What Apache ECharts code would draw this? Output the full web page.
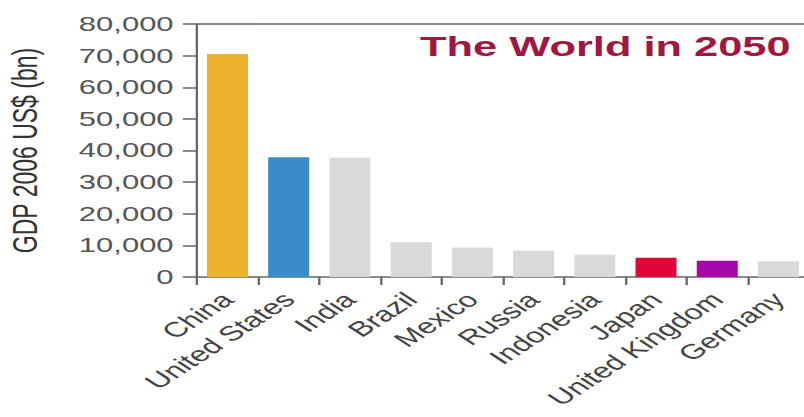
<!DOCTYPE html>
<html>
<head>
<meta charset="utf-8">
<style>
html,body{margin:0;padding:0;width:804px;height:417px;overflow:hidden;background:#fff;}
#c{width:530px;height:417px;transform:scaleX(1.55);transform-origin:0 0;}
</style>
<script src="https://cdn.jsdelivr.net/npm/echarts/dist/echarts.min.js"></script>
</head>
<body>
<div id="c"></div>
<script>
const categories = ['China', 'United States', 'India', 'Brazil', 'Mexico', 'Russia', 'Indonesia', 'Japan', 'United Kingdom', 'Germany'];
const gdp2050 = [70500, 37900, 37700, 11000, 9300, 8300, 7000, 6100, 5100, 5000];
const barColors = ['#ecb22b', '#3a8cc8', '#d9d9d9', '#d9d9d9', '#d9d9d9', '#d9d9d9', '#d9d9d9', '#e0063a', '#a507a8', '#d9d9d9'];
const titleText = 'The World in 2050';
const yAxisName = 'GDP 2006 US$ (bn)';

const chart = echarts.init(document.getElementById('c'), null, {renderer: 'svg'});
const fmt = v => String(v).replace(/\B(?=(\d{3})+(?!\d))/g, ',');
chart.setOption({
  animation: false,
  title: {
    text: titleText, left: 271, top: 32, padding: 0,
    textStyle: {fontFamily: 'Liberation Sans, Arial, sans-serif', fontSize: 28, fontWeight: 'bold', color: '#a0173f'}
  },
  grid: {left: 127, right: 8, top: 24, bottom: 140, containLabel: false, outerBoundsMode: 'none'},
  xAxis: [{
    type: 'category', data: categories,
    axisLine: {show: true, lineStyle: {color: '#666', width: 1.5}},
    axisTick: {show: true, length: 8, lineStyle: {color: '#666', width: 1.5}},
    axisLabel: {rotate: 45, margin: 19, interval: 0, fontSize: 21, color: '#444', fontFamily: 'Liberation Sans, Arial, sans-serif'}
  }, {
    type: 'category', data: categories, position: 'top',
    axisLine: {show: true, lineStyle: {color: '#666', width: 1.5}},
    axisTick: {show: false}, axisLabel: {show: false}
  }],
  yAxis: {
    type: 'value', min: 0, max: 80000, interval: 10000,
    name: yAxisName, nameLocation: 'middle', nameGap: 100, nameRotate: 90,
    nameTextStyle: {fontSize: 23, color: '#333', fontFamily: 'Liberation Sans, Arial, sans-serif'},
    axisLine: {show: true, lineStyle: {color: '#666', width: 1.5}},
    axisTick: {show: true, length: 9, lineStyle: {color: '#666', width: 1.5}},
    splitLine: {show: false},
    axisLabel: {margin: 15, fontSize: 20, color: '#555', fontFamily: 'Liberation Sans, Arial, sans-serif', formatter: fmt}
  },
  series: [{
    type: 'bar', barWidth: '67%', xAxisIndex: 0,
    data: gdp2050.map((v, i) => ({value: v, itemStyle: {color: barColors[i]}}))
  }]
});
</script>
</body>
</html>
